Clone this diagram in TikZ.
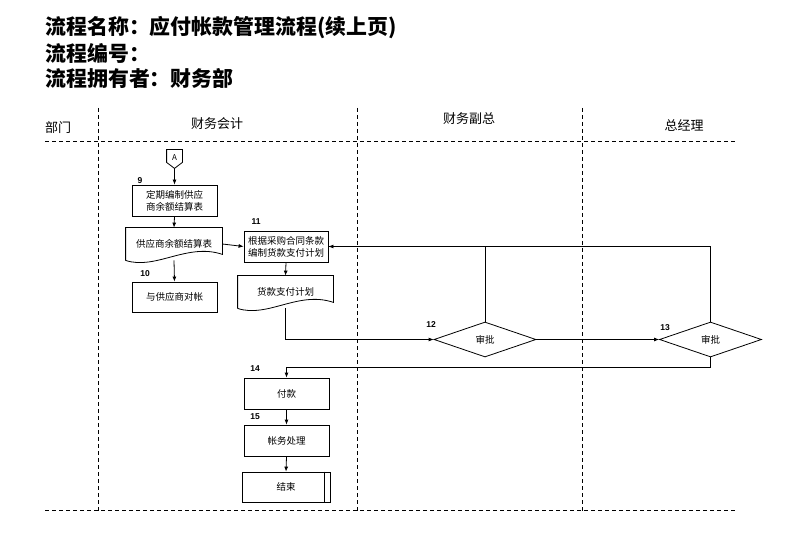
\documentclass[tikz,border=0pt]{standalone}
\usepackage{fontspec}
\setmainfont{Noto Sans CJK SC}
\newfontfamily\numf{Liberation Sans}
\usetikzlibrary{arrows.meta,shapes.geometric}
\begin{document}
\begin{tikzpicture}[x=1pt,y=-1pt,
  line width=0.8pt,
  box/.style={draw, minimum width=85pt, minimum height=31pt, inner sep=1pt, align=center, font=\fontsize{9.5}{12}\selectfont},
  docarea/.style={minimum width=96pt, minimum height=32pt, inner sep=1pt, align=center, font=\fontsize{9.5}{12}\selectfont},
  dia/.style={draw, diamond, aspect=2.9, minimum width=102pt, minimum height=35pt, inner sep=0pt, font=\fontsize{9.5}{12}\selectfont},
  arr/.style={-{Latex[length=5pt,width=4pt]}},
  lane/.style={dash pattern=on 4pt off 3pt, line width=0.7pt},
  num/.style={font=\numf\bfseries\fontsize{8.5}{9}\selectfont, inner sep=0pt},
  hdr/.style={font=\fontsize{13}{15}\selectfont, inner sep=0pt},
  ttl/.style={anchor=west, font=\bfseries\fontsize{20.9}{24}\selectfont, inner sep=0pt},
  ]
\useasboundingbox (0,0) rectangle (800,553);

% titles
\node[ttl] (t1) at (45,28) {流程名称：应付帐款管理流程(续上页)};
\node[ttl] (t2) at (45,53) {流程编号：};
\node[ttl] (t3) at (45,78) {流程拥有者：财务部};

% swimlanes
\draw[lane] (45,141) -- (735,141);
\draw[lane] (45,510) -- (735,510);
\draw[lane] (98,108) -- (98,513);
\draw[lane] (357,108) -- (357,513);
\draw[lane] (582,108) -- (582,513);
\node[hdr] (h0) at (58,128) {部门};
\node[hdr] (h1) at (217,124) {财务会计};
\node[hdr] (h2) at (469,119) {财务副总};
\node[hdr] (h3) at (684,125) {总经理};

% off-page connector
\node[inner sep=0pt, minimum width=15pt, minimum height=18pt, font=\fontsize{8}{9}\selectfont] (A) at (174.5,159) {\raisebox{2pt}{A}};
\draw (A.north west) -- (A.north east) -- ([yshift=6pt]A.south east) -- (A.south) -- ([yshift=6pt]A.south west) -- cycle;

% boxes
\node[box] (b9) at (174.5,200.5) {定期编制供应\\商余额结算表};
\node[box, minimum height=30pt] (b10) at (174.5,297) {与供应商对帐};
\node[box, minimum width=84pt] (b11) at (286,246.5) {根据采购合同条款\\编制货款支付计划};
\node[box] (b14) at (286.5,393.5) {付款};
\node[box] (b15) at (286.5,440.5) {帐务处理};
\node[box, minimum width=88pt, minimum height=30pt] (e) at (286,487) {结束};
\draw ([xshift=-6pt]e.north east) -- ([xshift=-6pt]e.south east);

% documents
\node[docarea] (d1) at (174,244) {供应商余额结算表};
\draw (d1.south west) -- (d1.north west) -- (d1.north east) -- ([yshift=6pt]d1.south east)
  .. controls +(-35,-12) and +(30,10) .. (d1.south west);
\node[docarea, minimum width=95pt] (d2) at (285.5,292) {货款支付计划};
\draw (d2.south west) -- (d2.north west) -- (d2.north east) -- ([yshift=6pt]d2.south east)
  .. controls +(-35,-12) and +(30,10) .. (d2.south west);

% decisions
\node[dia] (g12) at (485,339.5) {审批};
\node[dia] (g13) at (710.5,339.5) {审批};

% step numbers
\node[num] (n9) at (140,181) {9};
\node[num] (n10) at (145,274) {10};
\node[num] (n11) at (256,222) {11};
\node[num] (n12) at (431,325) {12};
\node[num] (n13) at (665,328) {13};
\node[num] (n14) at (255,369) {14};
\node[num] (n15) at (255,417) {15};

% connectors
\draw[arr] (A.south) -- (b9.north);
\draw[arr] (b9.south) -- (d1.north);
\draw[arr] (d1.south) -- (b10.north);
\draw[arr] (d1.east) -- (b11.west);
\draw[arr] (b11.south) -- (d2.north);
\draw[arr] (d2.south) |- (g12.west);
\draw[arr] (g12.east) -- (g13.west);
\draw[arr] (g13.south) -- ++(0,10) -| (b14.north);
\draw (g12.north) |- (b11.east);
\draw[arr] (g13.north) |- (b11.east);
\draw[arr] (b14.south) -- (b15.north);
\draw[arr] (b15.south) -- (e.north);
\end{tikzpicture}
\end{document}
